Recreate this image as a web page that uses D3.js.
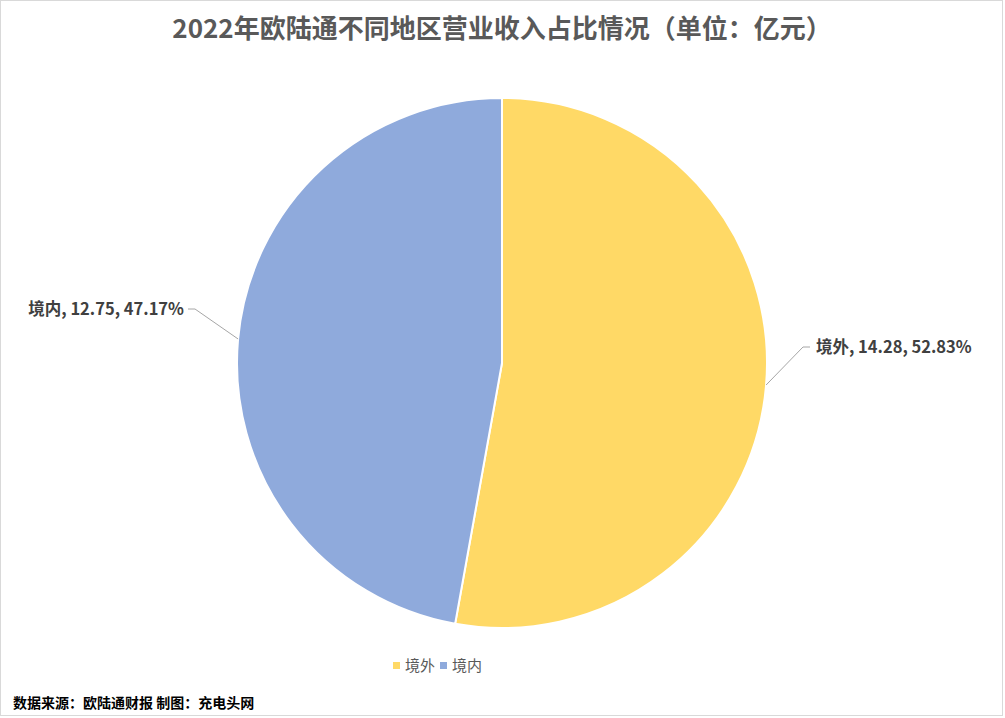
<!DOCTYPE html>
<html><head><meta charset="utf-8">
<script src="https://cdn.jsdelivr.net/npm/d3@7/dist/d3.min.js"></script>
<style>
html,body{margin:0;padding:0;background:#fff;}
svg{display:block;}
</style></head>
<body>
<svg id="c" width="1005" height="718"></svg>
<script>
const categories = ["境外", "境内"];
const values = [14.28, 12.75];
const percents = ["52.83%", "47.17%"];
const colors = ["#FFD966", "#8FAADC"];
const title = "2022年欧陆通不同地区营业收入占比情况（单位：亿元）";
const source = "数据来源：欧陆通财报 制图：充电头网";

const svg = d3.select("#c");
const W = 1005, H = 718;
const font = "'Noto Sans CJK SC','Noto Sans',sans-serif";

svg.append("rect").attr("x",0.5).attr("y",0.5).attr("width",W-3).attr("height",H-3)
  .attr("fill","#fff").attr("stroke","#d9d9d9").attr("stroke-width",1);

svg.append("text").attr("x",502).attr("y",38).attr("text-anchor","middle")
  .attr("font-family",font).attr("font-size",26).attr("font-weight","bold")
  .attr("fill","#595959").text(title);

const cx = 502, cy = 363, R = 265;
const pie = d3.pie().sort(null).value(d=>d);
const arcs = pie(values);
const arc = d3.arc().innerRadius(0).outerRadius(R);
const g = svg.append("g").attr("transform",`translate(${cx},${cy})`);
g.selectAll("path").data(arcs).enter().append("path")
  .attr("d",arc).attr("fill",(d,i)=>colors[i]).attr("stroke","#fff").attr("stroke-width",2);

// labels with leader lines (anchor angle on the rim, clockwise from 12 o'clock)
const labelPos = [
  {angle: 1.654, tx: 816, ty: 347, anchor: "start", bend: [803,347], end:[810,347]},
  {angle: -1.48, tx: 184, ty: 309, anchor: "end", bend: [195,309], end:[188,309]}
];
arcs.forEach((d,i)=>{
  const lp = labelPos[i];
  const p = d3.pointRadial(lp.angle, R);
  svg.append("polyline")
    .attr("points", [[cx+p[0], cy+p[1]], lp.bend, lp.end].map(q=>q.join(",")).join(" "))
    .attr("fill","none").attr("stroke","#a6a6a6").attr("stroke-width",1);
  svg.append("text").attr("x",lp.tx).attr("y",lp.ty).attr("dy","0.35em")
    .attr("text-anchor",lp.anchor).attr("font-family",font).attr("font-size",16.5)
    .attr("font-weight","bold").attr("fill","#404040")
    .text(`${categories[i]}, ${values[i].toFixed(2)}, ${percents[i]}`);
});

// legend
const legX = [393, 440];
categories.forEach((c,i)=>{
  svg.append("rect").attr("x",legX[i]).attr("y",662).attr("width",7).attr("height",7).attr("fill",colors[i]);
  svg.append("text").attr("x",legX[i]+12).attr("y",666).attr("dy","0.35em")
    .attr("font-family",font).attr("font-size",15).attr("fill","#595959").text(c);
});

svg.append("text").attr("x",13).attr("y",703).attr("dy","0.35em")
  .attr("font-family",font).attr("font-size",14).attr("font-weight","bold")
  .attr("fill","#000").text(source);
</script>
</body></html>
